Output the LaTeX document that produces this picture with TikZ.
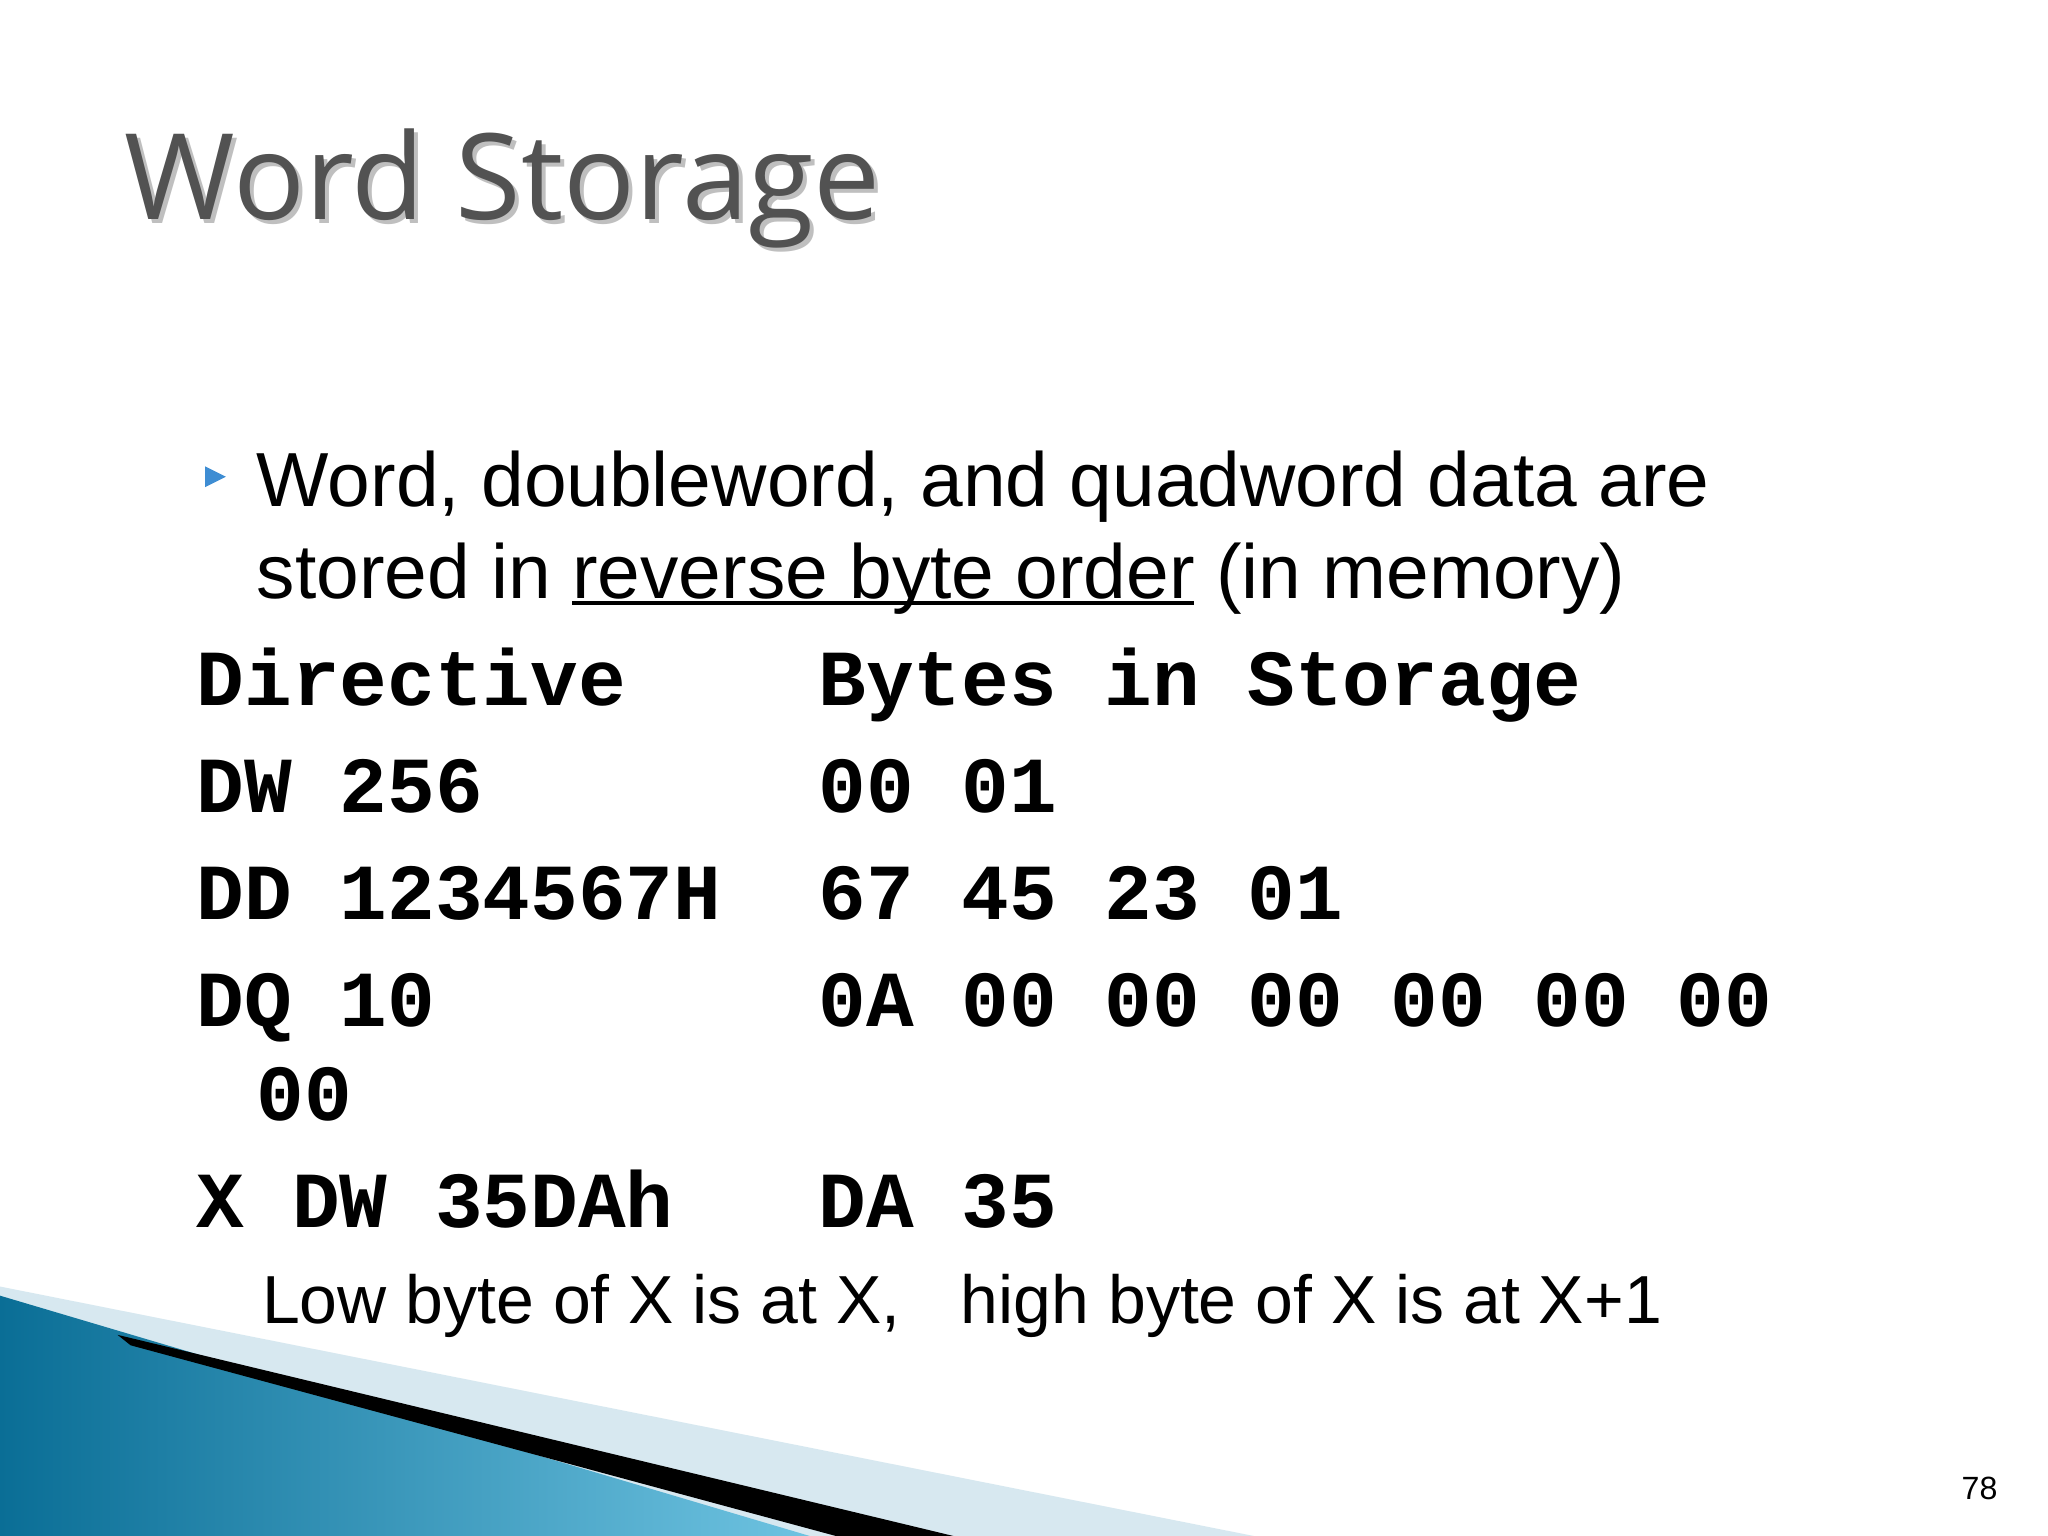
\documentclass[tikz,border=0pt]{standalone}
\usepackage{fontspec}
\setmainfont{Liberation Sans}
\newfontfamily\titlefont{Open Sans}
\newfontfamily\monob{Liberation Mono}
\definecolor{tealdark}{RGB}{10,110,150}
\definecolor{teallight}{RGB}{110,195,225}
\definecolor{wedge}{RGB}{215,232,240}
\begin{document}
\begin{tikzpicture}[x=0.01cm,y=-0.01cm,
  body/.style={anchor=base west,inner sep=0pt,font=\fontsize{16.7pt}{20pt}\selectfont},
  small/.style={anchor=base west,inner sep=0pt,font=\fontsize{14.8pt}{18pt}\selectfont},
  mono/.style={anchor=base west,inner sep=0pt,font=\monob\bfseries\fontsize{17.3pt}{20pt}\selectfont}]
\useasboundingbox (0,0) rectangle (1568,1176);
\fill[white] (0,0) rectangle (1568,1176);
% decoration
\fill[wedge] (0,985) -- (960,1176) -- (0,1176) -- cycle;
\shade[left color=tealdark, right color=teallight] (0,992) -- (620,1176) -- (0,1176) -- cycle;
\fill[black] (90,1022) -- (730,1176) -- (640,1176) -- (100,1030) -- cycle;
% title
\node[anchor=base west,inner sep=0pt,text=black!25,font=\titlefont\fontsize{26pt}{30pt}\selectfont] (tsh) at (98,171) {Word Storage};
\node[anchor=base west,inner sep=0pt,text=black!68,font=\titlefont\fontsize{26pt}{30pt}\selectfont] (title) at (95,168) {Word Storage};
% bullet
\fill[cyan!60!blue!80] (157,357) -- (173,365) -- (157,373) -- cycle;
\node[body] (l1) at (196,388) {Word, doubleword, and quadword data are};
\node[body] (l2) at (196,458) {stored in reverse byte order (in memory)};
\draw[line width=0.9pt] (438,462) -- (914,462);
\node[mono] (h1) at (150,540) {Directive};
\node[mono] (h2) at (626,540) {Bytes in Storage};
\node[mono] (a1) at (150,622) {DW 256};
\node[mono] (a2) at (626,622) {00 01};
\node[mono] (b1) at (150,704) {DD 1234567H};
\node[mono] (b2) at (626,704) {67 45 23 01};
\node[mono] (c1) at (150,786) {DQ 10};
\node[mono] (c2) at (626,786) {0A 00 00 00 00 00 00};
\node[mono] (c3) at (196,858) {00};
\node[mono] (d1) at (150,940) {X DW 35DAh};
\node[mono] (d2) at (626,940) {DA 35};
\node[small] (low) at (200,1013) {Low byte of X is at X,};
\node[small] (high) at (735,1013) {high byte of X is at X+1};
\node[anchor=base east,inner sep=0pt,font=\fontsize{7pt}{8pt}\selectfont] (pg) at (1530,1148) {78};
\end{tikzpicture}
\end{document}
